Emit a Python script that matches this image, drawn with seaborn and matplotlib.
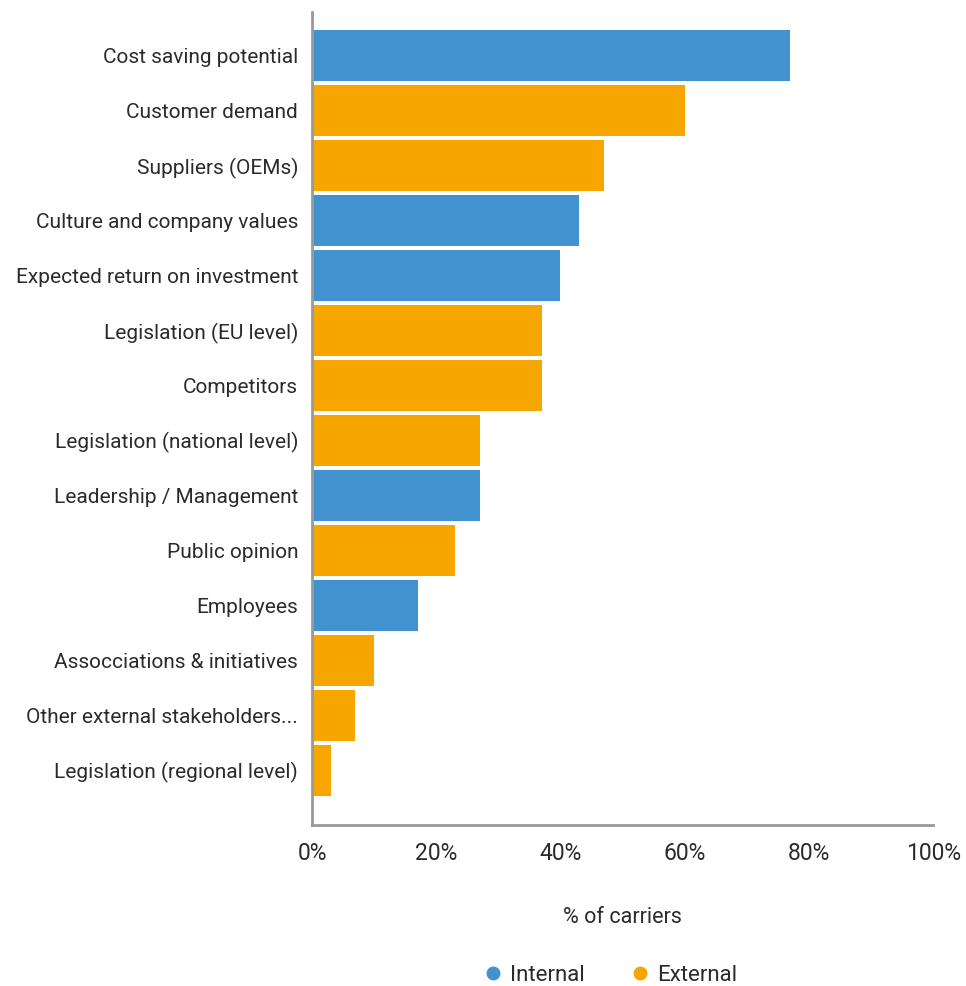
import matplotlib
matplotlib.use("Agg")
import matplotlib.pyplot as plt
from matplotlib.lines import Line2D
from matplotlib.ticker import PercentFormatter
import seaborn as sns
import pandas as pd

drivers = [
    "Cost saving potential",
    "Customer demand",
    "Suppliers (OEMs)",
    "Culture and company values",
    "Expected return on investment",
    "Legislation (EU level)",
    "Competitors",
    "Legislation (national level)",
    "Leadership / Management",
    "Public opinion",
    "Employees",
    "Assocciations & initiatives",
    "Other external stakeholders...",
    "Legislation (regional level)",
]
share = [77, 60, 47, 43, 40, 37, 37, 27, 27, 23, 17, 10, 7, 3]
origin = ["Internal", "External", "External", "Internal", "Internal", "External",
          "External", "External", "Internal", "External", "Internal", "External",
          "External", "External"]

palette = {"Internal": "#4192CF", "External": "#F7A600"}
text_color = "#2b2b2b"

df = pd.DataFrame({"driver": drivers, "share": share, "origin": origin})

sns.set_style("white")
plt.rcParams["font.family"] = ["Roboto", "DejaVu Sans"]

fig = plt.figure(figsize=(9.66, 9.86), dpi=100)
ax = fig.add_axes([0.323, 0.163, 0.643, 0.825])

sns.barplot(data=df, y="driver", x="share", hue="origin", palette=palette,
            dodge=False, width=0.93, orient="h", ax=ax, legend=False,
            saturation=1, linewidth=0)

ax.set_xlim(0, 100)
ax.set_ylim(14.0, -0.8)
ax.xaxis.set_major_formatter(PercentFormatter(decimals=0))
ax.set_xticks(range(0, 101, 20))
ax.tick_params(axis="x", length=0, pad=12, labelsize=16.5, labelcolor=text_color)
ax.tick_params(axis="y", length=0, pad=10, labelsize=15, labelcolor=text_color)
ax.set_ylabel("")
ax.set_xlabel("% of carriers", fontsize=15.5, color=text_color, labelpad=30)

for side in ("top", "right"):
    ax.spines[side].set_visible(False)
for side in ("left", "bottom"):
    ax.spines[side].set_color("#999999")
    ax.spines[side].set_linewidth(2)

handles = [Line2D([], [], marker="o", linestyle="", markersize=9,
                  markerfacecolor=palette[k], markeredgecolor=palette[k], label=k)
           for k in ("Internal", "External")]
fig.legend(handles=handles, loc="center", bbox_to_anchor=(0.632, 0.0105),
           ncol=2, frameon=False, fontsize=16, handlelength=0.8,
           handletextpad=0.35, columnspacing=2.1, borderpad=0,
           labelcolor=text_color)

fig.savefig("out.png", dpi=100)
